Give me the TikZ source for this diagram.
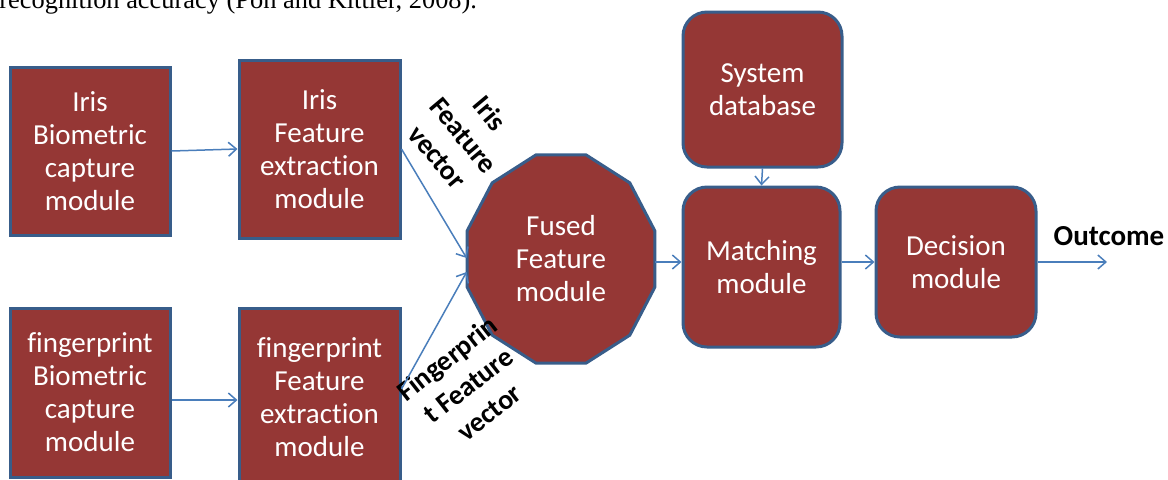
\documentclass[tikz,border=0pt]{standalone}
\usepackage{fontspec}
\setmainfont{Carlito}[Ligatures={NoCommon,NoRare}, RawFeature={-clig}]
\newfontfamily\timesfont{Liberation Serif}
\usetikzlibrary{arrows.meta}

\definecolor{boxred}{RGB}{149,55,53}
\definecolor{boxblue}{RGB}{56,93,138}
\definecolor{linkblue}{RGB}{74,126,187}

\tikzset{
  modbox/.style={draw=boxblue, fill=boxred, line width=1.5pt, text=white,
    align=center, inner sep=0pt, font=\fontsize{14.5}{16.5}\selectfont},
  roundbox/.style={modbox, rounded corners=12pt},
  link/.style={draw=linkblue, line width=0.75pt,
    -{Straight Barb[length=4pt,width=7pt]}},
  veclabel/.style={align=center, font=\bfseries\fontsize{14}{17}\selectfont},
}

\begin{document}
\begin{tikzpicture}[x=0.5pt,y=-0.5pt]

  \useasboundingbox (0,0) rectangle (1168,479);
  \clip (0,0) rectangle (1168,479);

  % text of the page above the figure
  \node[anchor=base west, inner sep=0pt, font=\timesfont\fontsize{13.2}{15}\selectfont]
    (pagetext) at (-1,8.5) {recognition accuracy (Poh and Kittler, 2008).};

  % capture and extraction
  \node[modbox, minimum width=80pt, minimum height=84pt] (iriscap) at (90,151)
    {Iris\\Biometric\\capture\\module};
  \node[modbox, minimum width=80.5pt, minimum height=89pt] (irisfeat) at (319.5,149)
    {Iris\\Feature\\extraction\\module};
  \node[modbox, minimum width=80pt, minimum height=84.5pt] (fpcap) at (90,392.5)
    {fingerprint\\Biometric\\capture\\module};
  \node[modbox, minimum width=80.5pt, minimum height=89pt] (fpfeat) at (319.5,397)
    {fingerprint\\Feature\\extraction\\module};

  % fusion
  \coordinate (fc) at (561,259);
  \draw[modbox] ([shift={(15:97.3 and 107.7)}]fc)
    \foreach \a in {45,75,...,345}{ -- ([shift={(\a:97.3 and 107.7)}]fc)} -- cycle;
  \node[align=center, text=white, font=\fontsize{14.5}{16.5}\selectfont,
    minimum width=94pt, minimum height=104pt, inner sep=0pt] (fused) at (fc)
    {Fused\\Feature\\module};

  % matching and decision
  \node[roundbox, minimum width=79.5pt, minimum height=77.5pt] (sysdb) at (762.5,89.5)
    {System\\database};
  \node[roundbox, minimum width=78.5pt, minimum height=80pt] (matching) at (761.5,267)
    {Matching\\module};
  \node[roundbox, minimum width=80pt, minimum height=75pt] (decision) at (956,262)
    {Decision\\module};

  \node[veclabel, rotate=-50] (irisvec) at (464,135) {Iris\\Feature\\vector};
  \node[veclabel, rotate=38] (fpvec) at (468,385) {Fingerprin\\t Feature\\vector};
  \node[font=\bfseries\fontsize{14.5}{16.5}\selectfont] (outcome) at (1109,236) {Outcome};
  \coordinate (outend) at (1107,262);

  \draw[link] (iriscap.east) -- (irisfeat.west);
  \draw[link] ([yshift=-3.75pt]fpcap.east) coordinate (fpa) -- (fpa -| fpfeat.west);
  \draw[link] (irisfeat.east) -- ([yshift=0.5pt]fused.west);
  \draw[link] ([yshift=4pt]fpfeat.east) -- ([yshift=-6.5pt]fused.west);
  \draw[link] (decision.west -| fused.east) -- (decision.west -| matching.west);
  \draw[link] (sysdb.south) -- (matching.north);
  \draw[link] (decision.west -| matching.east) -- (decision.west);
  \draw[link] (decision.east) -- (outend);

\end{tikzpicture}
\end{document}
